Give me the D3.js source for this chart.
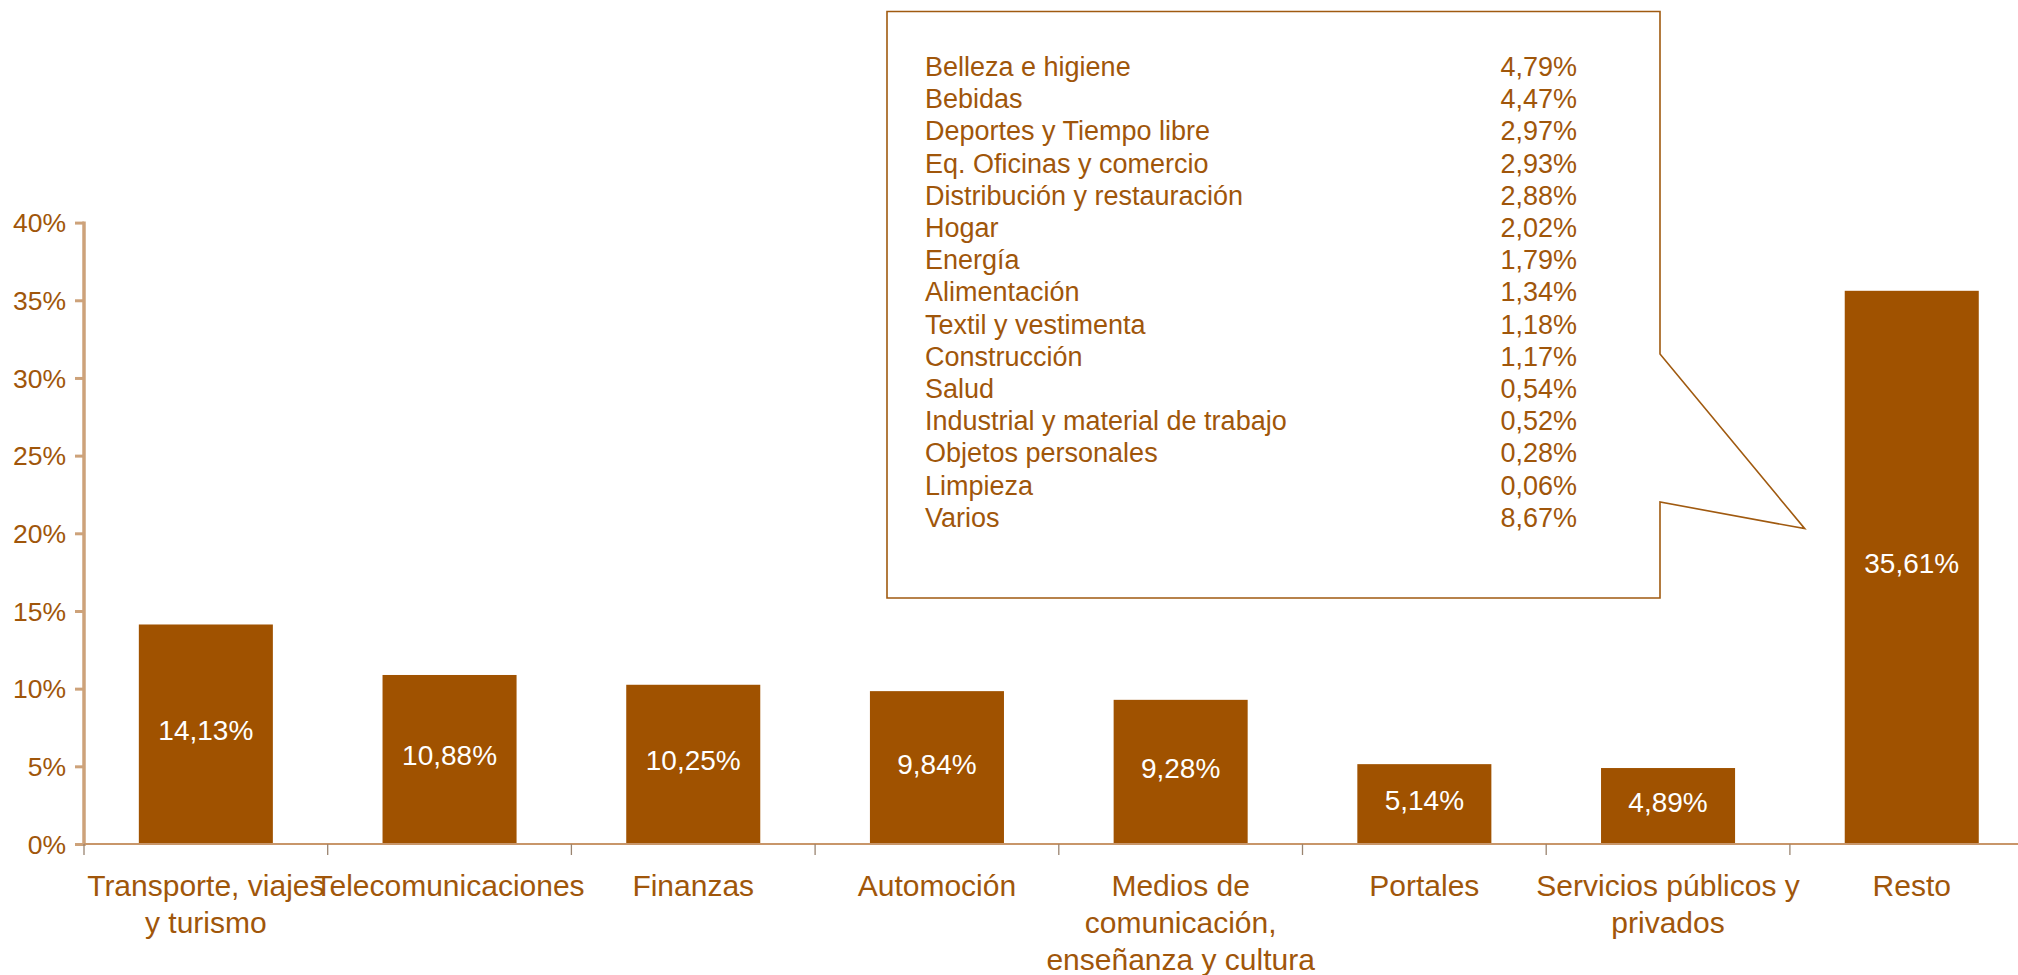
<!DOCTYPE html>
<html>
<head>
<meta charset="utf-8">
<script src="https://cdn.jsdelivr.net/npm/d3@7"></script>
<style>
	body { margin: 0; background: #fff; }
	svg text { font-family: "Liberation Sans", Arial, sans-serif; }
	.narrow { font-family: "Liberation Sans Narrow", "Liberation Sans", Arial, sans-serif; }
</style>
</head>
<body>
<div id="chart"></div>
<script>
	"use strict";

	var categories = ["Transporte, viajes|y turismo", "Telecomunicaciones", "Finanzas", "Automoción",
			"Medios de|comunicación,|enseñanza y cultura", "Portales", "Servicios públicos y|privados", "Resto"],
		values = [14.13, 10.88, 10.25, 9.84, 9.28, 5.14, 4.89, 35.61],
		yTicks = [0, 5, 10, 15, 20, 25, 30, 35, 40],
		restoNames = ["Belleza e higiene", "Bebidas", "Deportes y Tiempo libre", "Eq. Oficinas y comercio",
			"Distribución y restauración", "Hogar", "Energía", "Alimentación", "Textil y vestimenta",
			"Construcción", "Salud", "Industrial y material de trabajo", "Objetos personales", "Limpieza", "Varios"],
		restoValues = [4.79, 4.47, 2.97, 2.93, 2.88, 2.02, 1.79, 1.34, 1.18, 1.17, 0.54, 0.52, 0.28, 0.06, 8.67];

	var chartWidth = 2018,
		chartHeight = 975,
		axisX = 84,
		baseY = 844,
		topY = 222.6,
		step = 243.7,
		barColor = "#a05200",
		textColor = "#a0560a",
		axisColor = "#cda27a";

	var fmt = function(v) { return v.toFixed(2).replace(".", ",") + "%"; };

	var svg = d3.select("#chart")
			.append("svg")
			.attr("width", chartWidth)
			.attr("height", chartHeight);

	var x = d3.scaleBand()
			.domain(categories)
			.range([axisX, axisX + step * categories.length])
			.padding(0);

	var y = d3.scaleLinear()
			.domain([0, 40])
			.range([baseY, topY]);

	var barWidth = x.bandwidth() * 0.55;

	// bars
	svg.selectAll(".bar")
		.data(values)
		.enter()
		.append("rect")
		.attr("class", "bar")
		.attr("x", function(d, i) { return x(categories[i]) + (x.bandwidth() - barWidth) / 2; })
		.attr("y", function(d) { return y(d); })
		.attr("width", barWidth)
		.attr("height", function(d) { return baseY - y(d); })
		.style("fill", barColor);

	// values inside bars
	svg.selectAll(".barLabel")
		.data(values)
		.enter()
		.append("text")
		.attr("class", "barLabel")
		.attr("x", function(d, i) { return x(categories[i]) + x.bandwidth() / 2; })
		.attr("y", function(d) { return (y(d) + baseY) / 2 + 6; })
		.attr("text-anchor", "middle")
		.style("font-size", "28px")
		.style("fill", "#fff")
		.text(fmt);

	// y axis
	var yAxis = svg.append("g")
		.attr("transform", "translate(" + axisX + ",0)")
		.call(d3.axisLeft(y).tickValues(yTicks).tickSize(9).tickPadding(9)
			.tickFormat(function(d) { return d + "%"; }));
	yAxis.select(".domain").remove();
	yAxis.selectAll(".tick line").attr("stroke", axisColor).attr("stroke-width", 3);
	yAxis.selectAll(".tick text")
		.style("font-size", "26.5px")
		.style("fill", textColor)
		.attr("dy", "0.35em");
	yAxis.append("line")
		.attr("y1", topY - 1)
		.attr("y2", baseY + 2)
		.attr("stroke", axisColor)
		.attr("stroke-width", 3.5);

	// x axis
	var xAxis = svg.append("g")
		.attr("transform", "translate(0," + baseY + ")");
	xAxis.append("line")
		.attr("x1", axisX)
		.attr("x2", axisX + step * categories.length)
		.attr("stroke", "#c8966a")
		.attr("stroke-width", 2);
	xAxis.selectAll(".xtick")
		.data(d3.range(categories.length + 1))
		.enter()
		.append("line")
		.attr("class", "xtick")
		.attr("x1", function(d) { return axisX + d * step; })
		.attr("x2", function(d) { return axisX + d * step; })
		.attr("y1", 0)
		.attr("y2", 11)
		.attr("stroke", "#9a8470")
		.attr("stroke-width", 1.3);

	var catText = svg.selectAll(".catLabel")
		.data(categories)
		.enter()
		.append("text")
		.attr("class", "catLabel narrow")
		.attr("text-anchor", "middle")
		.attr("y", baseY + 52)
		.style("font-size", "30px")
		.style("fill", textColor);
	catText.selectAll("tspan")
		.data(function(d) { return d.split("|"); })
		.enter()
		.append("tspan")
		.attr("x", function() { var c = d3.select(this.parentNode).datum(); return x(c) + x.bandwidth() / 2; })
		.attr("dy", function(d, i) { return i === 0 ? 0 : 37; })
		.text(function(d) { return d; });

	// callout box pointing at "Resto"
	var restoLeft = x("Resto") + (x.bandwidth() - barWidth) / 2,
		boxL = 887, boxT = 11.5, boxR = 1660, boxB = 598,
		tipX = restoLeft - 40,
		tipY = y(20.3),
		notchTop = 354, notchBottom = 502;

	svg.append("path")
		.attr("d", "M" + boxL + "," + boxT + " L" + boxR + "," + boxT + " L" + boxR + "," + notchTop +
			" L" + tipX + "," + tipY + " L" + boxR + "," + notchBottom + " L" + boxR + "," + boxB +
			" L" + boxL + "," + boxB + " Z")
		.attr("fill", "#fff")
		.attr("stroke", "#a05a10")
		.attr("stroke-width", 1.6);

	var lineH = 32.2,
		firstY = 76;

	svg.selectAll(".restoName")
		.data(restoNames)
		.enter()
		.append("text")
		.attr("class", "restoName narrow")
		.attr("x", 925)
		.attr("y", function(d, i) { return firstY + i * lineH; })
		.style("font-size", "27px")
		.style("fill", textColor)
		.text(function(d) { return d; });

	svg.selectAll(".restoValue")
		.data(restoValues)
		.enter()
		.append("text")
		.attr("class", "restoValue narrow")
		.attr("x", 1577)
		.attr("y", function(d, i) { return firstY + i * lineH; })
		.attr("text-anchor", "end")
		.style("font-size", "27px")
		.style("fill", textColor)
		.text(fmt);
</script>
</body>
</html>
